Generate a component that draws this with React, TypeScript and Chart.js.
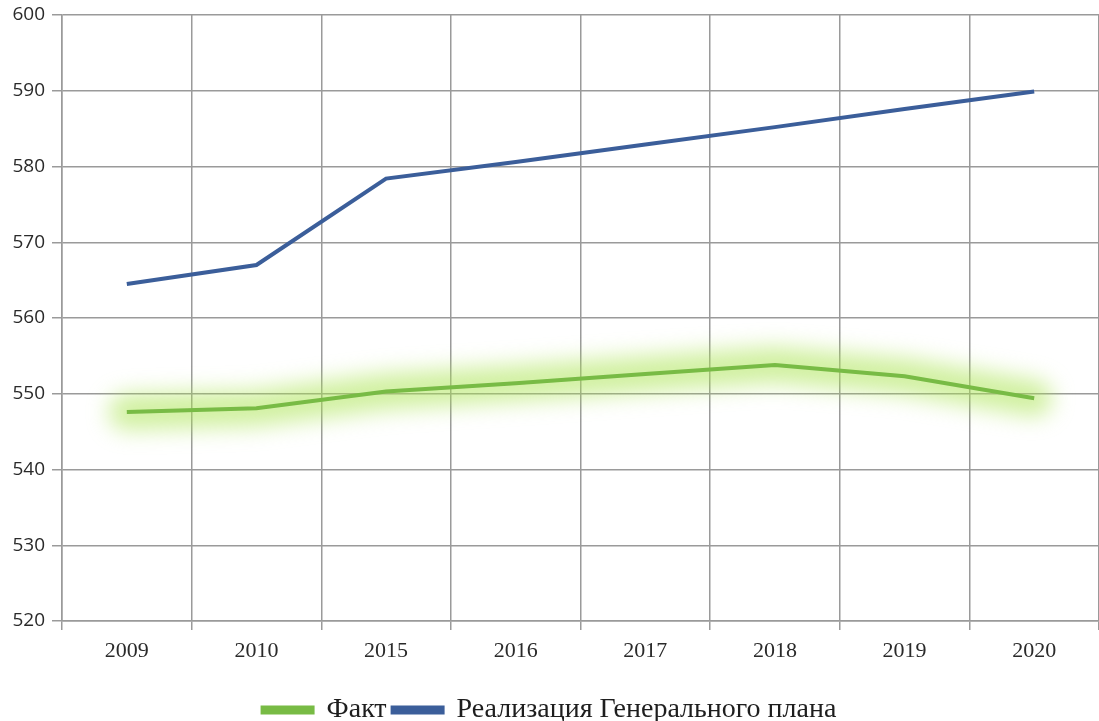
import React, { useEffect, useRef } from "react";
import { Chart, registerables } from "chart.js";

Chart.register(...registerables);

const categories = ["2009", "2010", "2015", "2016", "2017", "2018", "2019", "2020"];
const faktValues = [547.6, 548.1, 550.3, 551.4, 552.6, 553.8, 552.3, 549.4];
const planValues = [564.5, 567.0, 578.4, 580.6, 582.9, 585.2, 587.6, 589.9];
const seriesNames = ["Факт", "Реализация Генерального плана"];
const yMin = 520;
const yMax = 600;
const yStep = 10;

const GREEN = "#78bb45";
const BLUE = "#3b5e9a";
const GRID = "#9a9a9a";
const PLOT_BOTTOM = 621;
const BOTTOM_PAD = -13;

const glowPlugin = {
  id: "glow",
  beforeDatasetDraw(chart: any, args: any) {
    if (args.index !== 0) return;
    const pts = chart.getDatasetMeta(0).data;
    const ctx = chart.ctx;
    ctx.save();
    ctx.filter = "blur(11px)";
    ctx.strokeStyle = "rgba(170,228,80,0.55)";
    ctx.lineWidth = 36;
    ctx.lineJoin = "round";
    ctx.lineCap = "round";
    ctx.beginPath();
    pts.forEach((p: any, i: number) => {
      if (i === 0) ctx.moveTo(p.x, p.y);
      else ctx.lineTo(p.x, p.y);
    });
    ctx.stroke();
    ctx.restore();
  },
};

export default function App() {
  const ref = useRef<HTMLCanvasElement | null>(null);
  useEffect(() => {
    document.body.style.margin = "0";
    const chart = new Chart(ref.current as HTMLCanvasElement, {
      type: "line",
      data: {
        labels: categories,
        datasets: [
          {
            label: seriesNames[0],
            data: faktValues,
            borderColor: GREEN,
            backgroundColor: GREEN,
            borderWidth: 4,
            pointRadius: 0,
            tension: 0,
          },
          {
            label: seriesNames[1],
            data: planValues,
            borderColor: BLUE,
            backgroundColor: BLUE,
            borderWidth: 4,
            pointRadius: 0,
            tension: 0,
          },
        ],
      },
      options: {
        animation: false,
        responsive: true,
        maintainAspectRatio: false,
        layout: { padding: { top: 15, left: 0, right: 0, bottom: BOTTOM_PAD } },
        plugins: {
          tooltip: { enabled: false },
          legend: {
            position: "bottom",
            labels: {
              boxWidth: 50,
              boxHeight: 5,
              padding: 6,
              color: "#1e1e1e",
              font: { family: "'Liberation Serif', 'Times New Roman', serif", size: 28 },
            },
          },
        },
        scales: {
          x: {
            offset: true,
            afterFit: (s: any) => {
              const lh = s.chart.legend ? s.chart.legend.height : 0;
              s.height = s.chart.height - BOTTOM_PAD - lh - PLOT_BOTTOM;
            },
            grid: {
              offset: true,
              color: GRID,
              lineWidth: 1.5,
              tickLength: 9,
            },
            border: { color: GRID, width: 1.5 },
            ticks: {
              padding: 8,
              color: "#2a2a2a",
              font: { family: "'Liberation Serif', 'Times New Roman', serif", size: 22 },
            },
          },
          y: {
            min: yMin,
            max: yMax,
            afterFit: (s: any) => {
              s.width = 62;
              s.paddingTop = 0;
            },
            grid: {
              color: GRID,
              lineWidth: 1.5,
              tickLength: 10,
            },
            border: { color: GRID, width: 1.5 },
            ticks: {
              stepSize: yStep,
              padding: 7,
              color: "#2a2a2a",
              font: { family: "'Open Sans', 'Noto Sans', sans-serif", size: 19, lineHeight: 1 },
            },
          },
        },
      },
      plugins: [glowPlugin],
    });
    return () => chart.destroy();
  }, []);
  return (
    <div style={{ position: "fixed", left: 0, top: 0, width: 1099, height: 721, background: "#fff" }}>
      <canvas ref={ref} />
    </div>
  );
}
